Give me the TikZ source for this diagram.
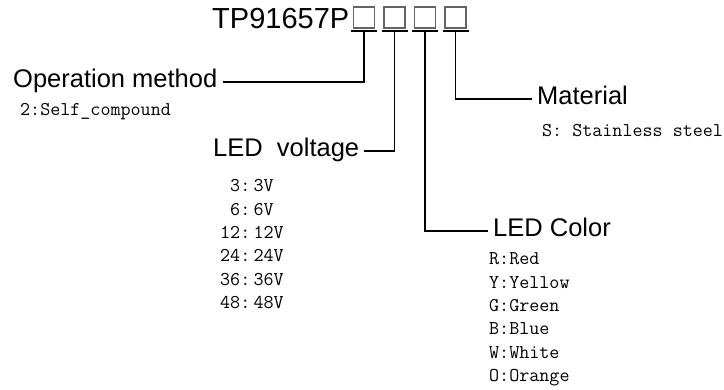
\documentclass[tikz,border=0pt]{standalone}
\usepackage{fontspec}
\setmainfont{Liberation Sans}
\usetikzlibrary{positioning,calc}
\definecolor{slotgray}{RGB}{100,100,100}
\tikzset{
	slot/.style={rectangle, draw=slotgray, line width=1.2pt, minimum size=21pt, inner sep=0pt},
	uline/.style={line width=2pt},
	conn/.style={line width=1.6pt},
	codetitle/.style={anchor=base west, inner sep=0pt, font=\fontsize{29}{34}\selectfont},
	fieldlbl/.style={anchor=base west, inner xsep=5pt, inner ysep=0pt, text height=17pt, text depth=5pt,
		font=\fontsize{25.5}{30}\selectfont},
	optline/.style={anchor=base west, inner sep=0pt, font=\ttfamily\fontsize{19.5}{23}\selectfont}
}
\begin{document}
\begin{tikzpicture}[x=1pt,y=-1pt]
	\useasboundingbox (0,0) rectangle (724,390);
	\node[codetitle] (code) at (212,29) {TP91657P};
	% the four code slots with their underlines
	\foreach \i/\x in {1/364,2/394.5,3/425,4/455.5} {
		\node[slot] (s\i) at (\x,17.5) {};
		\draw[uline] (\x-13,31) -- (\x+13,31);
		\coordinate (u\i) at (\x,31);
	}
	% field names
	\node[fieldlbl] (opm) at (8,88) {Operation method};
	\node[fieldlbl] (ledv) at (208,157) {LED\ \ voltage};
	\node[fieldlbl] (ledc) at (488,237) {LED Color};
	\node[fieldlbl] (mat) at (532,105) {Material};
	\draw[conn] (u1) |- (opm.east);
	\draw[conn] (u2) |- (ledv.east);
	\draw[conn] (u3) |- (ledc.west);
	\draw[conn] (u4) |- (mat.west);
	% options
	\node[optline] (opm1) at (20,116) {2:Self\_compound};
	\node[optline] (mat1) at (542,137) {S: Stainless steel};
	\foreach \t [count=\k from 0] in {\phantom{1}3:\,3V,\phantom{1}6:\,6V,12:\,12V,24:\,24V,36:\,36V,48:\,48V}
		\node[optline] (volt\k) at (220,192+23.3*\k) {\t};
	\foreach \t [count=\k from 0] in {R:Red,Y:Yellow,G:Green,B:Blue,W:White,O:Orange}
		\node[optline] (col\k) at (489,265+23.3*\k) {\t};
\end{tikzpicture}
\end{document}
